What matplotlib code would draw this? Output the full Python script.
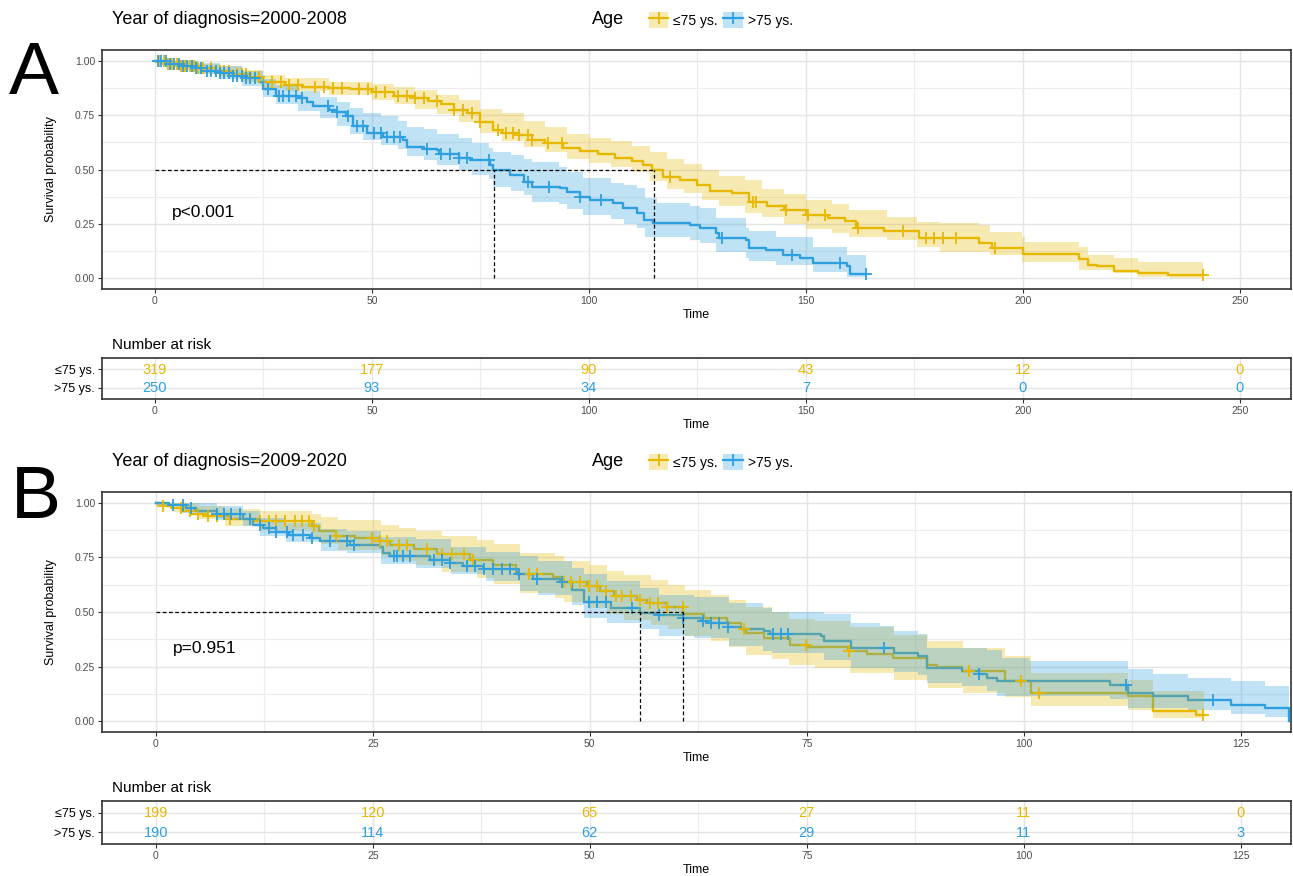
import numpy as np
import matplotlib
matplotlib.use('Agg')
import matplotlib.pyplot as plt
from matplotlib.patches import Patch
from matplotlib.lines import Line2D
from matplotlib.legend_handler import HandlerTuple
from matplotlib.ticker import MultipleLocator
from matplotlib import font_manager

# ---------------- data ----------------
GROUPS = ['≤75 ys.', '>75 ys.']
TITLE_A = 'Year of diagnosis=2000-2008'
TITLE_B = 'Year of diagnosis=2009-2020'
PVAL_A = 'p<0.001'
PVAL_B = 'p=0.951'

# Panel A, <=75 ys.
TA_Y = [0, 3, 6, 10, 14, 18, 22, 25, 30, 34, 40, 45, 50, 55, 60, 63, 66, 69, 72, 75,
        78, 80, 84, 87, 90, 94, 98, 102, 106, 110, 112.5, 114.5, 117, 121, 125, 128, 133, 137, 141, 145,
        150, 155, 159, 161.5, 168, 176, 190, 193, 200, 213, 215, 217, 221, 226.5, 233.4]
SA_Y = [1.0, .985, .975, .965, .955, .94, .925, .905, .89, .88, .875, .87, .855, .84, .83, .815, .80, .775, .76, .72,
        .68, .67, .66, .635, .62, .60, .585, .57, .555, .54, .52, .50, .465, .45, .43, .40, .39, .35, .33, .315,
        .29, .275, .265, .23, .215, .185, .16, .14, .11, .09, .06, .054, .032, .022, .014]
END_A_Y = 241.5
CIT_A_Y = [0, 5, 10, 15, 20, 25, 30, 40, 50, 55, 60, 65, 70, 75, 80, 85, 90, 95, 100, 105,
           110, 114, 118, 122, 126, 130, 136, 140, 145, 150, 156, 160, 168.6, 175.5, 181, 190, 192.4, 199.7, 200.5, 213,
           215, 221, 226.5, 234]
CIL_A_Y = [.99, .96, .945, .93, .905, .875, .86, .845, .82, .80, .78, .755, .72, .67, .63, .605, .58, .55, .53, .51,
           .49, .445, .41, .39, .36, .33, .30, .28, .25, .225, .21, .19, .175, .144, .121, .121, .106, .075, .075, .037,
           .037, .022, .006, .0]
CIU_A_Y = [1.0, 1.0, .985, .975, .96, .935, .92, .905, .895, .88, .865, .845, .82, .78, .76, .725, .695, .665, .645, .63,
           .61, .58, .55, .525, .50, .47, .45, .41, .385, .36, .34, .313, .282, .259, .252, .244, .213, .19, .167, .144,
           .106, .091, .075, .075]
CEN_A_Y = [1, 2, 3, 4, 5, 6, 7, 8, 9, 10, 11, 13, 14, 15, 16, 17, 19, 20, 21, 22, 23, 24, 27, 29, 31, 33,
           37, 39, 41, 43, 47, 49, 51, 53, 56, 58, 60, 62, 65, 69, 71, 73, 75, 79, 81, 82.5, 84, 86, 87,
           90.6, 93.7, 118.7, 137.8, 138.6, 145.5, 150.5, 154.4, 162, 172.4, 177.6, 179.6, 181.6, 184.6,
           193.5, 241.5]

# Panel A, >75 ys.
TA_B = [0, 3, 6, 9, 12, 15, 18, 21, 24, 25, 28, 33, 35, 36.5, 40, 42, 44, 45.7, 48.8, 52.6,
        57.2, 58, 62, 64.9, 65.4, 70, 72.6, 77.2, 78, 81.8, 85, 87, 93.3, 95, 97.9, 100.2, 105.6, 107.9, 111, 112.6,
        114.8, 123.3, 125.6, 129.4, 130, 136.3, 137, 140.9, 144.7, 148.6, 151.7, 159.4, 160.2]
SA_B = [1.0, .985, .975, .965, .955, .945, .93, .92, .905, .87, .84, .83, .81, .79, .775, .763, .745, .70, .667, .651,
        .636, .605, .595, .59, .57, .555, .544, .52, .498, .475, .444, .42, .413, .398, .375, .36, .344, .321, .298, .267,
        .252, .244, .229, .21, .186, .175, .14, .13, .106, .094, .068, .056, .017]
END_A_B = 163.8
CIT_A_B = [0, 5, 10, 15, 20, 25, 28, 33, 38, 42, 45, 48, 52, 56, 58, 62, 65, 70, 73, 77,
           78, 82, 85, 87, 93, 95, 98.7, 105, 108, 111, 113, 115.6, 123.3, 125.6, 129.4, 136.3, 137, 143.2, 151.7, 159.4]
CIL_A_B = [.99, .965, .94, .915, .885, .835, .80, .77, .735, .70, .665, .635, .615, .595, .56, .545, .52, .50, .475, .455,
           .42, .40, .382, .352, .34, .32, .29, .27, .25, .229, .19, .19, .175, .16, .121, .091, .08, .06, .029, .006]
CIU_A_B = [1.0, 1.0, .99, .975, .955, .915, .89, .86, .835, .81, .785, .76, .745, .725, .695, .685, .665, .645, .62, .60,
           .58, .567, .55, .536, .51, .49, .459, .44, .43, .413, .37, .344, .33, .321, .275, .229, .215, .19, .144, .106]
CEN_A_B = [0.8, 1.5, 2.5, 3.5, 4.5, 5.5, 6.5, 7.5, 8.5, 9.5, 10.5, 12, 13, 14, 15, 16, 17, 18, 19, 20, 21, 22, 23,
           26, 28.5, 29.5, 31, 32.5, 34, 39.8, 42, 44.5, 46.5, 48, 50.5, 52, 53.5, 55, 56.5, 62.7, 66, 68, 70, 72,
           77, 86, 90.8, 97.9, 102.9, 130.6, 146.7, 157.8, 163.8]
MED_A = [78.1, 115.0]

# Panel B, <=75 ys.
TB_Y = [0, 0.8, 1.8, 3, 4, 6, 8.5, 12, 18, 18.8, 20.8, 23, 25.8, 27, 29.7, 32.4, 36.2, 38.9, 41.5, 45.8,
        47, 49.7, 51.2, 52.8, 55.4, 56.6, 58.9, 60.8, 63.2, 65.8, 67.4, 68, 70.1, 73.1, 75.2, 79.7, 82, 84.9, 88.9, 90,
        92.9, 97.9, 100.8, 112, 114.9, 119.9]
SB_Y = [1.0, .984, .975, .962, .95, .939, .924, .915, .893, .87, .847, .84, .824, .809, .791, .767, .74, .717, .672, .66,
        .638, .618, .595, .572, .557, .542, .522, .489, .473, .45, .42, .405, .382, .351, .339, .32, .309, .29, .256, .247,
        .229, .183, .13, .115, .046, .027]
END_B_Y = 120.8
CIT_B_Y = [0, 2, 5, 8, 12, 18, 19, 21, 26, 28, 30, 33, 37, 39, 42, 46, 47, 50, 52, 54,
           57, 59, 61, 64, 66, 68, 71, 73, 76, 80, 85, 89, 93, 97.9, 100.8, 112, 114.9]
CIL_B_Y = [.99, .96, .925, .895, .875, .84, .81, .785, .755, .735, .715, .685, .655, .63, .585, .565, .545, .52, .49, .465,
           .44, .42, .39, .365, .34, .305, .285, .255, .245, .22, .19, .153, .13, .11, .069, .05, .012]
CIU_B_Y = [1.0, 1.0, .985, .97, .965, .95, .935, .92, .90, .885, .87, .85, .83, .81, .77, .755, .735, .715, .69, .67,
           .645, .625, .60, .58, .555, .525, .50, .47, .46, .43, .395, .366, .335, .30, .22, .19, .14]
CEN_B_Y = [0.85, 2.96, 3.9, 4.9, 6.0, 7.0, 8.5, 10.8, 12.0, 13.0, 13.9, 14.9, 16.0, 16.8, 17.6, 18.2, 20.8, 24.9,
           25.8, 26.6, 28.0, 28.9, 31.2, 33.0, 34.1, 35.5, 36.6, 43.0, 43.9, 47.0, 47.8, 48.9, 49.9, 50.8, 51.9,
           53.0, 53.7, 54.8, 55.8, 56.9, 57.9, 58.9, 60.7, 67.8, 74.9, 79.9, 93.7, 99.7, 101.8, 120.7]

# Panel B, >75 ys.
TB_B = [0, 1.5, 3.5, 4.5, 7, 10, 11.2, 12.3, 13.8, 15.3, 17.8, 18.9, 22.4, 25.8, 26.2, 27, 31.6, 33.9, 35.4, 37.7,
        41.6, 43.5, 46.6, 48, 49.3, 52.4, 55.8, 57.8, 60.7, 62.8, 63.9, 65.9, 67.4, 70.1, 70.8, 76.6, 77, 80.1, 85.1, 87.8,
        88.9, 92.9, 94.8, 95.8, 96.9, 109.9, 112, 114.9, 118.9, 123.9, 127.8, 130.6]
SB_B = [1.0, .99, .977, .965, .95, .928, .90, .886, .867, .852, .837, .824, .809, .797, .771, .756, .74, .725, .71, .695,
        .675, .649, .638, .603, .547, .519, .496, .485, .473, .458, .45, .43, .42, .414, .397, .389, .366, .333, .313, .30,
        .244, .229, .214, .199, .183, .165, .13, .114, .096, .076, .061, .0]
END_B_B = 130.6
CIT_B_B = [0, 3, 7, 10, 12, 15, 19, 22, 26, 30, 34, 38, 42, 44, 48, 49.3, 52, 55.8, 58, 62,
           66, 70, 71, 77, 80.1, 83.5, 85.1, 87.8, 88.9, 92.9, 95.8, 96.9, 97.5, 100.6, 109.9, 112, 114.9, 118.9, 123.9, 127.8]
CIL_B_B = [.99, .955, .92, .895, .85, .82, .78, .77, .72, .70, .675, .64, .595, .58, .53, .473, .45, .42, .389, .38,
           .345, .32, .31, .28, .244, .244, .225, .21, .176, .16, .137, .114, .114, .114, .099, .061, .061, .05, .031, .018]
CIU_B_B = [1.0, 1.0, .985, .965, .93, .91, .88, .87, .845, .835, .80, .775, .756, .735, .70, .672, .64, .61, .58, .57,
           .54, .519, .50, .49, .45, .435, .412, .397, .336, .336, .328, .328, .29, .275, .275, .237, .214, .199, .183, .16]
CEN_B_B = [2.0, 3.1, 4.1, 7.0, 7.8, 8.7, 9.7, 10.8, 12.0, 13.0, 13.9, 15.1, 15.8, 17.0, 18.0, 20.1, 22.0, 22.8,
           27.5, 27.8, 28.5, 29.3, 32.0, 33.0, 33.9, 35.8, 36.8, 37.8, 38.9, 39.9, 40.8, 41.8, 43.9, 46.8, 49.9,
           50.8, 51.9, 54.9, 58.0, 60.8, 63.0, 64.0, 64.9, 65.9, 71.1, 72.0, 72.8, 83.9, 94.9, 111.8, 121.8]
MED_B = [55.8, 60.8]

# Number at risk
RISK_A_T = [0, 50, 100, 150, 200, 250]
RISK_A_Y = [319, 177, 90, 43, 12, 0]
RISK_A_B = [250, 93, 34, 7, 0, 0]
RISK_B_T = [0, 25, 50, 75, 100, 125]
RISK_B_Y = [199, 120, 65, 27, 11, 0]
RISK_B_B = [190, 114, 62, 29, 11, 3]

# ---------------- style ----------------
YEL = '#E7B800'
BLU = '#2E9FDF'
names = {f.name for f in font_manager.fontManager.ttflist}
NARROW = 'Liberation Sans Narrow' if 'Liberation Sans Narrow' in names else 'Liberation Sans'
FAM = [NARROW, 'Liberation Sans', 'DejaVu Sans']
plt.rcParams['font.family'] = FAM
TICKC = '#4D4D4D'
BORDER = '#333333'
W, H = 1293, 876

fig = plt.figure(figsize=(W / 100, H / 100), dpi=100)


def fx(px):
    return px / W


def fy(py):
    return 1 - py / H


def style_axes(ax, xlim, major, minor):
    ax.set_xlim(*xlim)
    ax.xaxis.set_major_locator(MultipleLocator(major))
    ax.xaxis.set_minor_locator(MultipleLocator(minor))
    for sp in ax.spines.values():
        sp.set_color(BORDER)
        sp.set_linewidth(1.2)
    ax.tick_params(which='major', direction='out', length=3, width=0.8, color=BORDER,
                   labelsize=7.5, labelcolor=TICKC, pad=2)
    ax.tick_params(which='minor', length=0)
    ax.grid(which='major', color='#E4E4E4', lw=1.0)
    ax.grid(which='minor', color='#ECECEC', lw=0.8)
    ax.set_axisbelow(True)


def step_at(ts, ss, t):
    i = np.searchsorted(ts, t, side='right') - 1
    return ss[i]


def km_panel(rect, xlim, major, curves, meds, ptxt, pxy):
    ax = fig.add_axes(rect)
    style_axes(ax, xlim, major, major / 2)
    ax.set_ylim(-0.05, 1.05)
    ax.set_yticks([0, 0.25, 0.5, 0.75, 1.0])
    ax.set_yticklabels(['0.00', '0.25', '0.50', '0.75', '1.00'])
    ax.yaxis.set_minor_locator(MultipleLocator(0.125))
    for (t, s, end, ct, lo, hi, cen, col) in curves:
        t = np.asarray(t, float); s = np.asarray(s, float)
        ax.step(np.r_[t, end], np.r_[s, s[-1]], where='post', color=col, lw=1.7, zorder=3)
    for (t, s, end, ct, lo, hi, cen, col) in curves:
        ax.fill_between(np.r_[ct, end], np.r_[lo, lo[-1]], np.r_[hi, hi[-1]], step='post',
                        color=col, alpha=0.3, lw=0, zorder=4)
    for (t, s, end, ct, lo, hi, cen, col) in curves:
        t = np.asarray(t, float); s = np.asarray(s, float)
        cy = [step_at(t, s, c) for c in cen]
        ax.plot(cen, cy, ls='none', marker='+', ms=8, mew=1.3, color=col, zorder=5)
    ax.plot([0, max(meds)], [0.5, 0.5], ls=(0, (3, 2)), color='black', lw=0.9, zorder=6)
    for m in meds:
        ax.plot([m, m], [0, 0.5], ls=(0, (3, 2)), color='black', lw=0.9, zorder=6)
    ax.text(pxy[0], pxy[1], ptxt, fontsize=12.5, va='center', ha='left', zorder=7)
    ax.set_xlabel('Time', fontsize=9, labelpad=2)
    ax.set_ylabel('Survival probability', fontsize=9, labelpad=13)
    return ax


def risk_panel(rect, xlim, major, ticks, vals_y, vals_b):
    ax = fig.add_axes(rect)
    style_axes(ax, xlim, major, major / 2)
    ax.set_ylim(0.4, 2.6)
    ax.set_yticks([2, 1])
    ax.set_yticklabels(GROUPS)
    ax.tick_params(axis='y', labelsize=9, labelcolor='black')
    for x, v in zip(ticks, vals_y):
        ax.text(x, 1.97, str(v), color=YEL, fontsize=10.5, ha='center', va='center')
    for x, v in zip(ticks, vals_b):
        ax.text(x, 0.97, str(v), color=BLU, fontsize=10.5, ha='center', va='center')
    ax.set_xlabel('Time', fontsize=9, labelpad=2)
    return ax


curves_A = [(TA_Y, SA_Y, END_A_Y, CIT_A_Y, CIL_A_Y, CIU_A_Y, CEN_A_Y, YEL),
            (TA_B, SA_B, END_A_B, CIT_A_B, CIL_A_B, CIU_A_B, CEN_A_B, BLU)]
curves_B = [(TB_Y, SB_Y, END_B_Y, CIT_B_Y, CIL_B_Y, CIU_B_Y, CEN_B_Y, YEL),
            (TB_B, SB_B, END_B_B, CIT_B_B, CIL_B_B, CIU_B_B, CEN_B_B, BLU)]

L, R = 102, 1291
xlA = (-12.2, 261.8)
xlB = (-6.2, 130.8)
km_panel([fx(L), fy(289), fx(R - L), (289 - 50) / H], xlA, 50, curves_A, MED_A, PVAL_A, (4, 0.30))
risk_panel([fx(L), fy(399), fx(R - L), (399 - 358) / H], xlA, 50, RISK_A_T, RISK_A_Y, RISK_A_B)
km_panel([fx(L), fy(732), fx(R - L), (732 - 492) / H], xlB, 25, curves_B, MED_B, PVAL_B, (2, 0.333))
risk_panel([fx(L), fy(844), fx(R - L), (844 - 801) / H], xlB, 25, RISK_B_T, RISK_B_Y, RISK_B_B)

# panel letters and headers
fig.text(fx(9), fy(94), 'A', fontsize=54, family=['Liberation Sans', 'DejaVu Sans'], va='baseline')
fig.text(fx(11), fy(518), 'B', fontsize=54, family=['Liberation Sans', 'DejaVu Sans'], va='baseline')
for ytop, title in [(20, TITLE_A), (462, TITLE_B)]:
    fig.text(fx(112), fy(ytop), title, fontsize=13, va='center', ha='left')
    fig.text(fx(592), fy(ytop), 'Age', fontsize=13, va='center', ha='left')
    handles = [(Patch(facecolor=YEL, alpha=0.3, lw=0), Line2D([], [], color=YEL, lw=1.6, marker='+', ms=8, mew=1.3)),
               (Patch(facecolor=BLU, alpha=0.3, lw=0), Line2D([], [], color=BLU, lw=1.6, marker='+', ms=8, mew=1.3))]
    fig.legend(handles, GROUPS, handler_map={tuple: HandlerTuple(ndivide=1)},
               loc='center left', bbox_to_anchor=(fx(649), fy(ytop)), ncol=2, frameon=False,
               fontsize=10, handlelength=1.4, handleheight=1.5, handletextpad=0.35,
               columnspacing=0.4, borderpad=0, borderaxespad=0)
for ytop in [345, 788]:
    fig.text(fx(112), fy(ytop), 'Number at risk', fontsize=11, va='center', ha='left')

fig.savefig('out.png', dpi=100)
